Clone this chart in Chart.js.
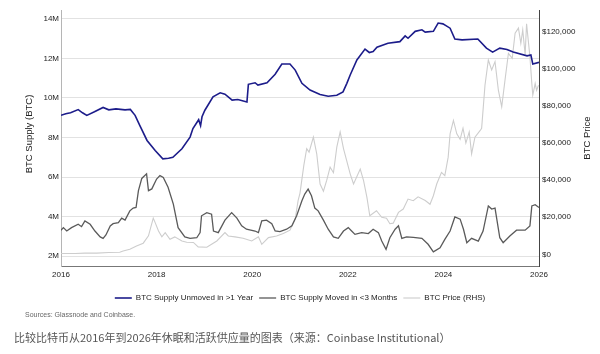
<!DOCTYPE html>
<html>
<head>
<meta charset="utf-8">
<script src="https://cdn.jsdelivr.net/npm/chart.js@4.4.1/dist/chart.umd.min.js"></script>
<style>
  body { margin: 0; background: #fff; width: 600px; height: 354px; overflow: hidden; }
  .chart-wrap { position: relative; width: 600px; height: 312px; }
  .sources { position: absolute; left: 25px; top: 311px; font: 7px 'Liberation Sans', Arial, sans-serif; color: #666; }
  .caption { position: absolute; left: 14px; top: 329px; font: 11px 'Noto Sans CJK SC', sans-serif; color: #555; white-space: nowrap; }
</style>
</head>
<body>
<div class="chart-wrap"><canvas id="chart" width="600" height="312"></canvas></div>
<div class="sources">Sources: Glassnode and Coinbase.</div>
<div class="caption">比较比特币从2016年到2026年休眠和活跃供应量的图表（来源：Coinbase Institutional）</div>
<script>
// BTC supply unmoved in >1 year (millions of BTC)
const unmovedYears = [
  2016.00, 2016.10, 2016.20, 2016.36, 2016.45, 2016.54, 2016.70, 2016.88, 2017.00, 2017.15,
  2017.34, 2017.45, 2017.55, 2017.65, 2017.80, 2017.97, 2018.13, 2018.25, 2018.34, 2018.53,
  2018.70, 2018.76, 2018.88, 2018.92, 2018.95, 2019.01, 2019.18, 2019.33, 2019.43, 2019.58,
  2019.70, 2019.89, 2019.92, 2020.06, 2020.12, 2020.31, 2020.48, 2020.62, 2020.79, 2020.90,
  2021.04, 2021.21, 2021.42, 2021.59, 2021.77, 2021.90, 2021.98, 2022.05, 2022.19, 2022.36,
  2022.45, 2022.53, 2022.61, 2022.84, 2023.09, 2023.20, 2023.26, 2023.41, 2023.55, 2023.62,
  2023.79, 2023.89, 2023.99, 2024.14, 2024.24, 2024.39, 2024.72, 2024.90, 2025.03, 2025.18,
  2025.33, 2025.46, 2025.75, 2025.83, 2025.87, 2026.00
];
const unmovedSupply = [
  9.12, 9.20, 9.25, 9.41, 9.25, 9.12, 9.30, 9.52, 9.40, 9.45,
  9.40, 9.42, 9.12, 8.60, 7.85, 7.34, 6.92, 6.95, 7.00, 7.43,
  8.02, 8.45, 8.90, 8.60, 9.05, 9.38, 10.06, 10.26, 10.19, 9.89,
  9.92, 9.80, 10.69, 10.77, 10.65, 10.77, 11.20, 11.72, 11.72, 11.41,
  10.74, 10.40, 10.18, 10.09, 10.14, 10.31, 10.74, 11.16, 11.92, 12.47,
  12.30, 12.35, 12.57, 12.77, 12.85, 13.14, 13.02, 13.37, 13.45, 13.33,
  13.37, 13.79, 13.75, 13.53, 12.98, 12.94, 12.98, 12.52, 12.32, 12.52,
  12.45, 12.32, 12.13, 12.18, 11.72, 11.80
];

// BTC supply moved in <3 months (millions of BTC)
const activeYears = [
  2016.00, 2016.05, 2016.12, 2016.22, 2016.36, 2016.43, 2016.50, 2016.61, 2016.71, 2016.82,
  2016.88, 2016.94, 2017.03, 2017.09, 2017.20, 2017.27, 2017.34, 2017.44, 2017.51, 2017.57,
  2017.62, 2017.69, 2017.79, 2017.83, 2017.90, 2018.00, 2018.07, 2018.14, 2018.24, 2018.35,
  2018.45, 2018.59, 2018.70, 2018.84, 2018.91, 2018.94, 2019.05, 2019.15, 2019.19, 2019.29,
  2019.43, 2019.57, 2019.68, 2019.78, 2019.88, 2020.06, 2020.13, 2020.20, 2020.30, 2020.41,
  2020.48, 2020.58, 2020.72, 2020.83, 2020.93, 2021.04, 2021.10, 2021.17, 2021.24, 2021.31,
  2021.38, 2021.49, 2021.59, 2021.70, 2021.80, 2021.91, 2022.01, 2022.08, 2022.15, 2022.29,
  2022.43, 2022.53, 2022.64, 2022.71, 2022.80, 2022.88, 2022.99, 2023.06, 2023.13, 2023.23,
  2023.37, 2023.55, 2023.68, 2023.79, 2023.93, 2024.03, 2024.14, 2024.24, 2024.35, 2024.42,
  2024.49, 2024.59, 2024.73, 2024.83, 2024.94, 2025.01, 2025.08, 2025.18, 2025.25, 2025.39,
  2025.53, 2025.71, 2025.81, 2025.85, 2025.92, 2026.00
];
const activeSupply = [
  3.31, 3.44, 3.27, 3.44, 3.61, 3.49, 3.78, 3.61, 3.27, 2.97,
  2.90, 3.07, 3.53, 3.64, 3.69, 3.92, 3.82, 4.29, 4.43, 4.46,
  5.31, 5.93, 6.16, 5.31, 5.40, 5.90, 6.07, 5.98, 5.48, 4.63,
  3.44, 2.97, 2.90, 2.93, 3.19, 4.04, 4.20, 4.12, 3.27, 3.19,
  3.82, 4.20, 3.92, 3.53, 3.36, 3.27, 3.19, 3.78, 3.82, 3.64,
  3.27, 3.24, 3.36, 3.53, 4.04, 4.80, 5.14, 5.39, 5.05, 4.43,
  4.29, 3.82, 3.36, 2.97, 2.90, 3.27, 3.44, 3.27, 3.10, 3.19,
  3.14, 3.36, 3.19, 2.76, 2.34, 2.93, 3.36, 3.53, 2.90, 2.97,
  2.95, 2.90, 2.60, 2.22, 2.42, 2.85, 3.27, 3.98, 3.87, 3.36,
  2.68, 2.90, 2.76, 3.27, 4.54, 4.38, 4.43, 2.93, 2.68, 3.02,
  3.31, 3.31, 3.53, 4.54, 4.60, 4.46
];

// BTC price in USD (right axis)
const priceYears = [
  2016.00, 2016.30, 2016.50, 2016.75, 2017.00, 2017.23, 2017.30, 2017.44, 2017.58, 2017.72,
  2017.83, 2017.93, 2017.97, 2018.04, 2018.11, 2018.18, 2018.28, 2018.38, 2018.53, 2018.63,
  2018.77, 2018.87, 2019.05, 2019.26, 2019.43, 2019.50, 2019.64, 2019.81, 2019.99, 2020.13,
  2020.20, 2020.34, 2020.51, 2020.65, 2020.79, 2020.90, 2020.96, 2021.00, 2021.08, 2021.14,
  2021.19, 2021.28, 2021.35, 2021.42, 2021.49, 2021.56, 2021.63, 2021.70, 2021.77, 2021.84,
  2021.91, 2022.05, 2022.12, 2022.26, 2022.33, 2022.40, 2022.46, 2022.60, 2022.71, 2022.81,
  2022.88, 2022.95, 2023.06, 2023.16, 2023.26, 2023.37, 2023.47, 2023.62, 2023.72, 2023.79,
  2023.86, 2023.96, 2024.03, 2024.10, 2024.14, 2024.21, 2024.28, 2024.35, 2024.41, 2024.47,
  2024.54, 2024.59, 2024.66, 2024.77, 2024.80, 2024.87, 2024.94, 2025.01, 2025.08, 2025.15,
  2025.22, 2025.29, 2025.36, 2025.44, 2025.50, 2025.57, 2025.62, 2025.66, 2025.71, 2025.74,
  2025.81, 2025.85, 2025.87, 2025.92, 2025.95, 2025.99
];
const btcPrice = [
  430, 420, 650, 620, 960, 1100, 1800, 2700, 4500, 6000,
  10000, 19500, 17100, 12600, 9400, 11700, 8100, 9400, 7200, 6500,
  6400, 4000, 3800, 7200, 11700, 9900, 9400, 8700, 7200, 9400,
  5400, 9000, 9900, 11200, 13000, 19000, 28900, 33000, 48000, 57000,
  55100, 63200, 54200, 37900, 34000, 40000, 47000, 44000, 57800, 66000,
  57000, 43400, 37900, 46000, 39700, 30700, 20800, 23500, 20000, 19500,
  16500, 16800, 22600, 24400, 29800, 28900, 31000, 29000, 27000, 31600,
  37900, 44200, 42400, 52400, 65000, 72200, 65000, 62000, 68000, 60000,
  66000, 54200, 63200, 66800, 68000, 91200, 104800, 99400, 103900, 88500,
  79500, 94200, 108400, 105700, 119200, 122000, 113800, 121000, 107600, 124300,
  106600, 92100, 85800, 92100, 88500, 91200
];

const yearTicks = [2016, 2018, 2020, 2022, 2024, 2026];
const supplyTicks = [2, 4, 6, 8, 10, 12, 14];
const priceTicks = [0, 20000, 40000, 60000, 80000, 100000, 120000];

const toPoints = (xs, ys) => xs.map((x, i) => ({ x, y: ys[i] }));
const tickFont = { family: "'Liberation Sans', Arial, sans-serif", size: 8 };

// rotated axis titles, both reading bottom-to-top like the original
const axisTitles = {
  id: 'axisTitles',
  afterDraw(chart) {
    const ctx = chart.ctx;
    const midY = (chart.chartArea.top + chart.chartArea.bottom) / 2;
    ctx.save();
    ctx.font = "9.5px 'Liberation Sans', Arial, sans-serif";
    ctx.fillStyle = '#222';
    ctx.textAlign = 'center';
    ctx.textBaseline = 'middle';
    [[29, midY - 4, 'BTC Supply (BTC)'], [587, midY, 'BTC Price']].forEach(([x, y, text]) => {
      ctx.save();
      ctx.translate(x, y);
      ctx.rotate(-Math.PI / 2);
      ctx.fillText(text, 0, 0);
      ctx.restore();
    });
    ctx.restore();
  }
};

new Chart(document.getElementById('chart').getContext('2d'), {
  type: 'line',
  data: {
    datasets: [
      {
        label: 'BTC Supply Unmoved in >1 Year',
        data: toPoints(unmovedYears, unmovedSupply),
        borderColor: '#1c1c8a',
        backgroundColor: '#1c1c8a',
        borderWidth: 1.6,
        pointRadius: 0,
        yAxisID: 'y'
      },
      {
        label: 'BTC Supply Moved in <3 Months',
        data: toPoints(activeYears, activeSupply),
        borderColor: '#5a5a5a',
        backgroundColor: '#5a5a5a',
        borderWidth: 1.3,
        pointRadius: 0,
        yAxisID: 'y'
      },
      {
        label: 'BTC Price (RHS)',
        data: toPoints(priceYears, btcPrice),
        borderColor: '#cdcdcd',
        backgroundColor: '#cdcdcd',
        borderWidth: 1.1,
        pointRadius: 0,
        yAxisID: 'y1'
      }
    ]
  },
  options: {
    responsive: false,
    animation: false,
    layout: { padding: { top: 10, left: 0, right: 0, bottom: 0 } },
    plugins: {
      tooltip: { enabled: false },
      legend: {
        position: 'bottom',
        labels: {
          usePointStyle: true,
          pointStyle: 'line',
          pointStyleWidth: 17,
          padding: 6,
          color: '#222',
          font: tickFont
        }
      }
    },
    scales: {
      x: {
        type: 'linear',
        min: 2016,
        max: 2026,
        afterBuildTicks: s => { s.ticks = yearTicks.map(v => ({ value: v })); },
        afterFit: s => { s.height = 22; },
        ticks: { callback: v => String(v), color: '#222', font: tickFont, padding: 4, maxRotation: 0, autoSkip: false },
        grid: { display: false, drawTicks: false },
        border: { color: '#777', width: 1 }
      },
      y: {
        position: 'left',
        min: 1.5,
        max: 14.45,
        afterBuildTicks: s => { s.ticks = supplyTicks.map(v => ({ value: v })); },
        afterFit: s => { s.width = 61; },
        ticks: { callback: v => v + 'M', color: '#222', font: tickFont, padding: 2 },
        grid: { color: '#e2e2e2', drawTicks: false },
        border: { color: '#b5b5b5', width: 1 }
      },
      y1: {
        position: 'right',
        min: -6300,
        max: 131750,
        afterBuildTicks: s => { s.ticks = priceTicks.map(v => ({ value: v })); },
        afterFit: s => { s.width = 61; },
        ticks: { callback: v => '$' + v.toLocaleString('en-US'), color: '#222', font: tickFont, padding: 3 },
        grid: { display: false, drawTicks: false },
        border: { color: '#444', width: 1 }
      }
    }
  },
  plugins: [axisTitles]
});
</script>
</body>
</html>
